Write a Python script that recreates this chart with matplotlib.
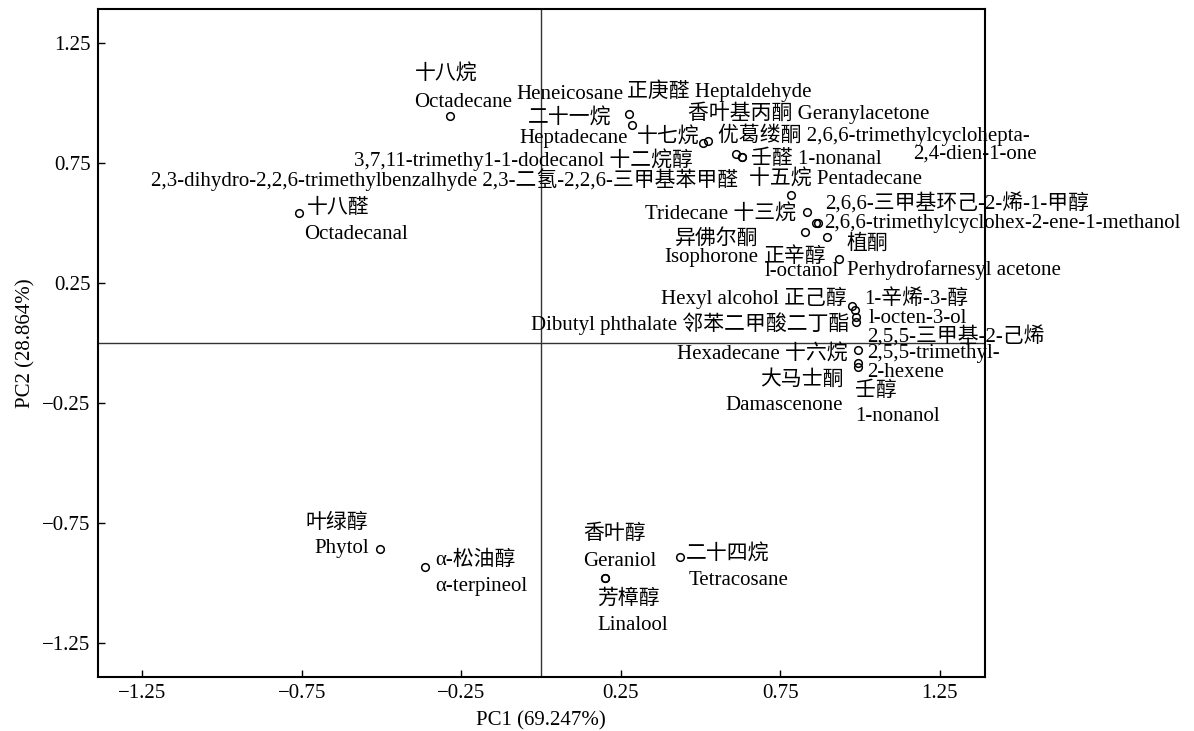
import matplotlib
matplotlib.use('Agg')
import matplotlib.pyplot as plt

plt.rcParams['font.family'] = ['Liberation Serif', 'DejaVu Serif', 'Noto Sans CJK SC']
plt.rcParams['axes.unicode_minus'] = True

# compound names and PCA loadings
names_cn = ['十八烷', '十八醛', '二十一烷', '正庚醛', '十七烷', '优葛缕酮', '香叶基丙酮',
            '十二烷醇', '壬醛', '2,3-二氢-2,2,6-三甲基苯甲醛', '十五烷', '十三烷',
            '2,6,6-三甲基环己-2-烯-1-甲醇', '异佛尔酮', '植酮', '正辛醇', '正己醇',
            '1-辛烯-3-醇', '邻苯二甲酸二丁酯', '2,5,5-三甲基-2-己烯', '十六烷', '大马士酮',
            '壬醇', '叶绿醇', 'α-松油醇', '香叶醇', '芳樟醇', '二十四烷']
names_en = ['Octadecane', 'Octadecanal', 'Heneicosane', 'Heptaldehyde', 'Heptadecane',
            '2,6,6-trimethylcyclohepta-\n2,4-dien-1-one', 'Geranylacetone',
            '3,7,11-trimethy1-1-dodecanol', '1-nonanal',
            '2,3-dihydro-2,2,6-trimethylbenzalhyde', 'Pentadecane', 'Tridecane',
            '2,6,6-trimethylcyclohex-2-ene-1-methanol', 'Isophorone',
            'Perhydrofarnesyl acetone', 'l-octanol', 'Hexyl alcohol', 'l-octen-3-ol',
            'Dibutyl phthalate', '2,5,5-trimethyl-\n2-hexene', 'Hexadecane', 'Damascenone',
            '1-nonanol', 'Phytol', 'α-terpineol', 'Geraniol', 'Linalool', 'Tetracosane']
pc1 = [-0.286, -0.760, 0.275, 0.286, 0.506, 0.524, 0.630, 0.612, 0.631, 0.863,
       0.784, 0.835, 0.869, 0.828, 0.897, 0.935, 0.976, 0.985, 0.988, 0.988,
       0.994, 0.994, 0.994, -0.506, -0.363, 0.199, 0.200, 0.436]
pc2 = [0.945, 0.542, 0.955, 0.907, 0.832, 0.840, 0.775, 0.786, 0.774, 0.500,
       0.616, 0.545, 0.500, 0.462, 0.441, 0.350, 0.155, 0.138, 0.109, 0.088,
       -0.028, -0.082, -0.098, -0.858, -0.934, -0.979, -0.981, -0.893]
ticks = [-1.25, -0.75, -0.25, 0.25, 0.75, 1.25]
xlabel = 'PC1 (69.247%)'
ylabel = 'PC2 (28.864%)'

# label placement: (text template, dx px, dy px, alignment) per compound
label_layout = [
    [('{cn}', -35, 43, 'left'), ('{en}', -36, 16, 'left')],
    [('{cn}', 8, 6, 'left'), ('{en}', 6, -20, 'left')],
    [('{en}', -59, 21, 'center'), ('{cn}', -59, -3, 'center')],
    [('{cn} {en}', -5, 37, 'left')],
    [('{en}', -75, 7, 'right'), ('{cn}', -66, 8, 'left')],
    [('{cn} {en0}', 10, 9, 'left'), ('{en1}', 205, -11, 'left')],
    [('{cn} {en}', -54, 46, 'left')],
    [('{en} {cn}', -43, -3, 'right')],
    [('{cn} {en}', 9, 0, 'left')],
    [('{en} {cn}', -78, 45, 'right')],
    [('{cn} {en}', -42, 17, 'left')],
    [('{en} {cn}', -11, 0, 'right')],
    [('{cn}', 7, 21, 'left'), ('{en}', 6, 1, 'left')],
    [('{cn}', -47, -5, 'right'), ('{en}', -47, -23, 'right')],
    [('{cn}', 19, -5, 'left'), ('{en}', 20, -31, 'left')],
    [('{cn}', -13, 4, 'right'), ('{en}', -1, -11, 'right')],
    [('{en} {cn}', -6, 10, 'right')],
    [('{cn}', 9, 13, 'left'), ('{en}', 13, -7, 'left')],
    [('{en} {cn}', -7, -5, 'right')],
    [('{cn}', 11, -13, 'left'), ('{en0}', 11, -30, 'left'), ('{en1}', 11, -49, 'left')],
    [('{en} {cn}', -11, -3, 'right')],
    [('{cn}', -15, -15, 'right'), ('{en}', -15, -41, 'right')],
    [('{cn}', -3, -23, 'left'), ('{en}', -3, -48, 'left')],
    [('{cn}', -74, 28, 'left'), ('{en}', -11, 2, 'right')],
    [('{cn}', 10, 9, 'left'), ('{en}', 10, -17, 'left')],
    [('{cn}', -21, 46, 'left'), ('{en}', -21, 19, 'left')],
    [('{cn}', -8, -19, 'left'), ('{en}', -8, -45, 'left')],
    [('{cn}', 6, 5, 'left'), ('{en}', 8, -21, 'left')],
]

fig = plt.figure(figsize=(11.94, 7.31), dpi=100)
ax = fig.add_axes([0.0817, 0.0743, 0.7429, 0.913])

ax.axvline(0, color='#333333', lw=1.0, zorder=1)
ax.axhline(0, color='#333333', lw=1.0, zorder=1)
ax.plot(pc1, pc2, 'o', ms=5.5, mfc='none', mec='black', mew=1.1, zorder=3)

for i, items in enumerate(label_layout):
    en_parts = names_en[i].split('\n')
    fields = {'cn': names_cn[i], 'en': names_en[i].replace('\n', ' '),
              'en0': en_parts[0], 'en1': en_parts[-1]}
    for fmt, dx, dy, ha in items:
        ax.annotate(fmt.format(**fields), (pc1[i], pc2[i]), xytext=(dx, dy - 2),
                    textcoords='offset pixels', ha=ha, va='center',
                    fontsize=15, color='black', annotation_clip=False)

ax.set_xlim(-1.39, 1.39)
ax.set_ylim(-1.39, 1.39)
ax.set_xticks(ticks)
ax.set_yticks(ticks)
tick_text = [f'{t:.2f}'.replace('-', '\u2212') for t in ticks]
ax.set_xticklabels(tick_text)
ax.set_yticklabels(tick_text)
ax.tick_params(direction='in', length=5, width=1.0, labelsize=15, pad=5,
               top=False, right=False)
for sp in ax.spines.values():
    sp.set_linewidth(1.5)

ax.set_xlabel(xlabel, fontsize=15, labelpad=6)
ax.set_ylabel(ylabel, fontsize=15, labelpad=5)

fig.savefig('out.png', dpi=100)
